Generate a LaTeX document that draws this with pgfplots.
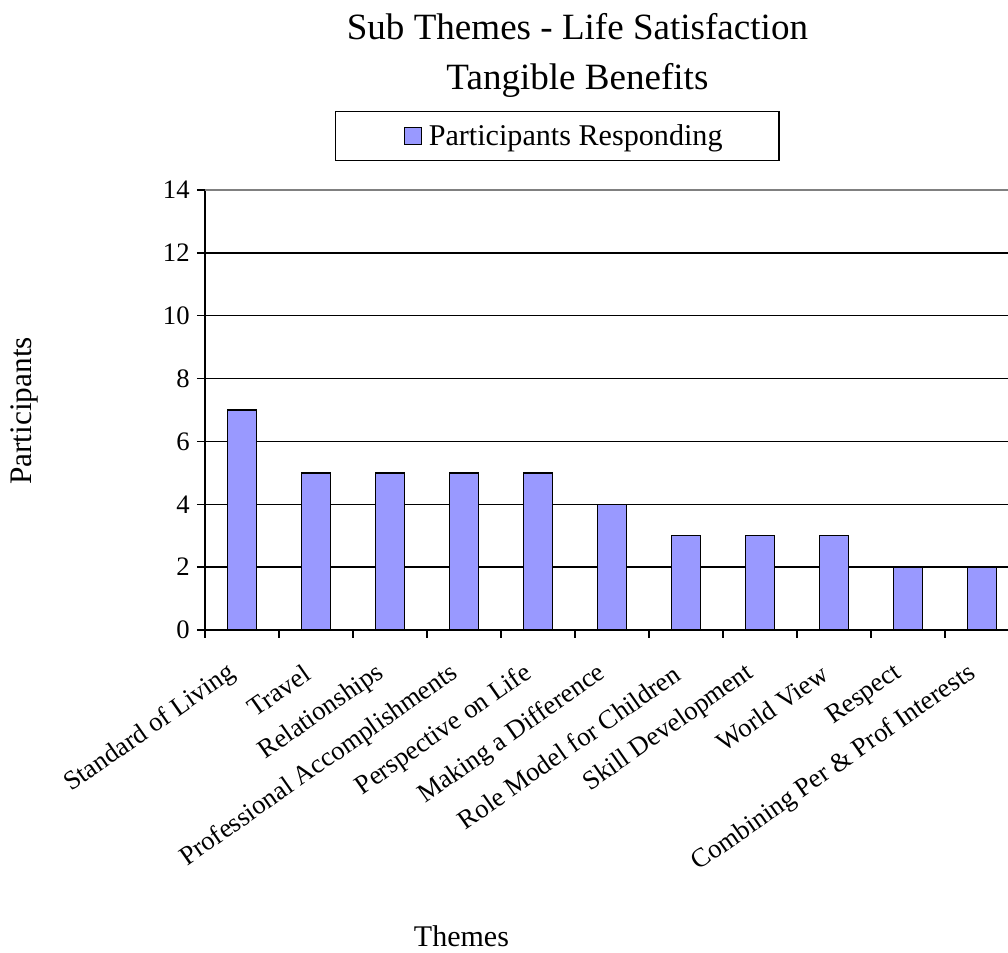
\documentclass[border=0pt]{standalone}
\usepackage{fontspec}
\setmainfont{Liberation Serif}
\usepackage{pgfplots}
\pgfplotsset{compat=1.18}
\definecolor{barblue}{HTML}{9999FF}
\begin{document}
\begin{tikzpicture}
% 1 px = 0.75pt, picture 1008 x 953 px
\path[use as bounding box] (0pt,0pt) rectangle (756pt,714.75pt);
\begin{axis}[
  at={(153.75pt,242.25pt)}, anchor=south west,
  scale only axis, width=602.25pt, height=330pt,
  ybar, bar width=21.75pt,
  xmin=-0.5, xmax=10.351, ymin=0, ymax=14,
  axis x line*=bottom, axis y line*=left,
  axis line style={-, line width=1.1pt, black},
  tick align=outside, major tick length=6pt,
  tick style={line width=1.1pt, black},
  ytick={0,2,...,12},
  extra y ticks={14},
  extra y tick style={grid style={gray, line width=1.3pt}},
  ymajorgrids, grid style={black, line width=1.1pt},
  yticklabel style={font=\fontsize{20}{24}\selectfont, xshift=-2pt},
  xtick={-0.5,0.5,...,9.5}, xticklabels={},
  extra x ticks={0,1,2,3,4,5,6,7,8,9,10},
  extra x tick labels={Standard of Living, Travel, Relationships, Professional Accomplishments, Perspective on Life, Making a Difference, Role Model for Children, Skill Development, World View, Respect, Combining Per \& Prof Interests},
  extra x tick style={major tick length=0pt,
    xticklabel style={font=\fontsize{20}{24}\selectfont, xshift=-5pt, yshift=-29.5pt, rotate=35, anchor=east, inner sep=2pt}},
  /pgf/number format/assume math mode=true,
  title={Sub Themes - Life Satisfaction\\Tangible Benefits},
  title style={align=center, font=\fontsize{27.8}{37.5}\selectfont, at={(axis description cs:0.4638,1.288)}, anchor=center},
  ylabel={Participants},
  ylabel style={font=\fontsize{23.5}{28}\selectfont, at={(axis description cs:-0.2254,0.4977)}, anchor=center},
  xlabel={Themes},
  xlabel style={font=\fontsize{22.5}{27}\selectfont, at={(axis description cs:0.3194,-0.6955)}, anchor=center},
  legend style={at={(axis description cs:0.4386,1.1227)}, anchor=center, draw=black, line width=1.1pt,
    font=\fontsize{22.6}{27}\selectfont, inner xsep=40.4pt, inner ysep=7.6pt},
  legend image code/.code={
    \path[draw=none, fill=none] (-11.25pt,0pt) rectangle (16.5pt,0.1pt);
    \draw[fill=barblue, draw=black, line width=0.8pt] (0pt,-6.2pt) rectangle (12.75pt,6.2pt);},
]
\addplot[fill=barblue, draw=black, line width=1.1pt] coordinates {
  (0,7) (1,5) (2,5) (3,5) (4,5) (5,4) (6,3) (7,3) (8,3) (9,2) (10,2)
};
\legend{Participants Responding}
\end{axis}
\end{tikzpicture}
\end{document}
